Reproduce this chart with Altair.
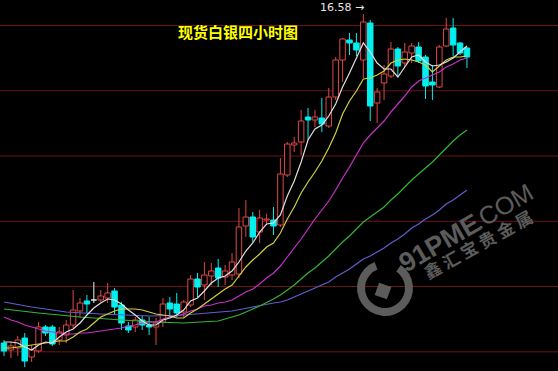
import altair as alt
import pandas as pd

# ---------------- data (4-hour bars) ----------------
bar_no = list(range(68))
open_ = [13.29, 13.22, 13.24, 13.34, 13.15, 13.21, 13.45, 13.45, 13.32, 13.37,
         13.47, 13.61, 13.71, 13.72, 13.72, 13.74, 13.81, 13.67, 13.46, 13.45,
         13.52, 13.47, 13.45, 13.50, 13.69, 13.68, 13.60, 13.67, 13.93, 13.87,
         13.96, 14.04, 13.95, 13.97, 13.98, 14.46, 14.55, 14.40, 14.52, 14.52,
         14.47, 14.97, 15.27, 15.30, 15.55, 15.52, 15.54, 15.46, 15.75, 16.12,
         16.32, 16.29, 16.12, 16.49, 15.69, 15.89, 15.96, 16.23, 16.09, 16.19,
         16.25, 16.15, 15.90, 15.85, 16.26, 16.44, 16.29, 16.24]
close = [13.21, 13.26, 13.32, 13.11, 13.22, 13.45, 13.39, 13.28, 13.40, 13.47,
         13.62, 13.69, 13.68, 13.72, 13.76, 13.79, 13.65, 13.49, 13.42, 13.52,
         13.47, 13.45, 13.49, 13.68, 13.63, 13.59, 13.70, 13.93, 13.85, 13.97,
         14.01, 13.94, 14.01, 14.10, 14.45, 14.55, 14.35, 14.54, 14.53, 14.46,
         14.98, 15.28, 15.29, 15.51, 15.52, 15.55, 15.48, 15.75, 16.12, 16.33,
         16.29, 16.22, 16.50, 15.66, 15.80, 15.98, 16.23, 16.06, 16.20, 16.26,
         16.11, 15.86, 15.87, 16.25, 16.43, 16.27, 16.19, 16.15]
high = [13.32, 13.30, 13.36, 13.39, 13.27, 13.50, 13.47, 13.47, 13.45, 13.52,
        13.82, 13.74, 13.77, 13.90, 13.82, 13.89, 13.84, 13.70, 13.50, 13.55,
        13.56, 13.55, 13.54, 13.74, 13.75, 13.79, 13.72, 13.97, 13.99, 14.10,
        14.09, 14.13, 14.07, 14.19, 14.64, 14.72, 14.60, 14.62, 14.58, 14.65,
        15.14, 15.30, 15.35, 15.62, 15.64, 15.62, 15.74, 15.84, 16.15, 16.34,
        16.39, 16.39, 16.58, 16.52, 15.84, 16.07, 16.30, 16.25, 16.29, 16.29,
        16.30, 16.17, 16.07, 16.27, 16.54, 16.54, 16.30, 16.25]
low = [13.16, 13.14, 13.16, 13.05, 13.10, 13.19, 13.36, 13.26, 13.27, 13.29,
       13.44, 13.54, 13.59, 13.69, 13.70, 13.69, 13.57, 13.42, 13.39, 13.40,
       13.42, 13.37, 13.27, 13.45, 13.55, 13.55, 13.55, 13.65, 13.75, 13.72,
       13.87, 13.85, 13.87, 13.92, 13.94, 14.35, 14.30, 14.29, 14.47, 14.37,
       14.45, 14.95, 15.20, 15.17, 15.32, 15.45, 15.40, 15.44, 15.72, 15.90,
       16.17, 16.16, 15.94, 15.51, 15.49, 15.72, 15.94, 15.95, 16.05, 16.09,
       16.09, 15.73, 15.72, 15.84, 16.25, 16.16, 16.17, 16.04]

# moving averages (white MA5, yellow MA10, magenta MA20, green MA40, blue MA60)
ma5_bar = list(range(68))
ma5 = [13.30, 13.30, 13.29, 13.25, 13.22, 13.27, 13.30, 13.29, 13.35, 13.40,
       13.43, 13.49, 13.57, 13.64, 13.69, 13.73, 13.72, 13.68, 13.62, 13.57,
       13.51, 13.47, 13.47, 13.52, 13.54, 13.57, 13.62, 13.71, 13.74, 13.81,
       13.89, 13.94, 13.96, 14.01, 14.10, 14.21, 14.29, 14.40, 14.48, 14.49,
       14.57, 14.76, 14.91, 15.10, 15.32, 15.43, 15.47, 15.56, 15.68, 15.85,
       15.99, 16.14, 16.29, 16.20, 16.09, 16.03, 16.03, 15.95, 16.05, 16.15,
       16.17, 16.10, 16.06, 16.07, 16.10, 16.14, 16.20, 16.26]
ma10_bar = list(range(68))
ma10 = [13.24, 13.24, 13.25, 13.26, 13.27, 13.28, 13.29, 13.30, 13.31, 13.31,
        13.35, 13.40, 13.43, 13.49, 13.55, 13.58, 13.61, 13.63, 13.63, 13.63,
        13.62, 13.60, 13.58, 13.57, 13.56, 13.54, 13.54, 13.59, 13.63, 13.68,
        13.73, 13.78, 13.83, 13.87, 13.96, 14.05, 14.12, 14.18, 14.25, 14.29,
        14.39, 14.53, 14.65, 14.79, 14.90, 15.00, 15.11, 15.24, 15.39, 15.58,
        15.71, 15.81, 15.93, 15.94, 15.97, 16.01, 16.09, 16.12, 16.13, 16.12,
        16.10, 16.07, 16.00, 16.06, 16.12, 16.15, 16.15, 16.16]
ma20_bar = list(range(68))
ma20 = [13.55, 13.52, 13.50, 13.47, 13.45, 13.43, 13.41, 13.40, 13.39, 13.38,
        13.38, 13.39, 13.39, 13.40, 13.41, 13.42, 13.43, 13.44, 13.46, 13.47,
        13.49, 13.50, 13.50, 13.53, 13.55, 13.56, 13.58, 13.61, 13.63, 13.66,
        13.67, 13.69, 13.70, 13.72, 13.76, 13.80, 13.83, 13.88, 13.94, 13.99,
        14.06, 14.15, 14.24, 14.33, 14.43, 14.53, 14.62, 14.71, 14.82, 14.94,
        15.05, 15.17, 15.29, 15.37, 15.44, 15.51, 15.60, 15.68, 15.76, 15.85,
        15.91, 15.94, 15.97, 16.00, 16.05, 16.08, 16.12, 16.14]
ma40_bar = [0, 5, 11, 17, 22, 26, 31, 34, 37, 39, 40, 41, 42, 43, 44, 45, 46,
            47, 48, 49, 50, 51, 52, 53, 54, 55, 56, 57, 58, 59, 60, 61, 62, 63,
            64, 65, 66, 67]
ma40 = [13.63, 13.59, 13.55, 13.52, 13.50, 13.49, 13.51, 13.57, 13.66, 13.73,
        13.77, 13.82, 13.87, 13.93, 13.99, 14.04, 14.10, 14.16, 14.23, 14.30,
        14.36, 14.43, 14.50, 14.55, 14.60, 14.65, 14.72, 14.78, 14.85, 14.92,
        14.98, 15.04, 15.10, 15.17, 15.24, 15.31, 15.37, 15.42]
ma60_bar = [0, 4, 9, 14, 21, 26, 33, 36, 39, 40, 41, 42, 43, 44, 45, 46, 47,
            48, 49, 50, 51, 52, 53, 54, 55, 56, 57, 58, 59, 60, 61, 62, 63, 64,
            65, 66, 67]
ma60 = [13.70, 13.65, 13.60, 13.58, 13.56, 13.57, 13.61, 13.65, 13.69, 13.70,
        13.72, 13.75, 13.78, 13.81, 13.84, 13.87, 13.90, 13.95, 13.99, 14.03,
        14.08, 14.13, 14.16, 14.20, 14.24, 14.29, 14.33, 14.38, 14.44, 14.48,
        14.53, 14.57, 14.62, 14.68, 14.72, 14.77, 14.82]

grid_levels = [16.465, 15.812, 15.16, 14.507, 13.855, 13.202]

title_text = "现货白银四小时图"
wm_brand = "91PME"
wm_domain = ".COM"
wm_cn = "鑫 汇 宝 贵 金 属"

# ---------------- styling ----------------
RED = "#e04646"
CYAN = "#00f0f0"
WHITE = "#f0f0f0"
GRID = "#6a1414"
WM = "#5c5c5c"

W, H = 558, 371
xs = alt.Scale(domain=[-0.579, 80.174], nice=False, zero=False, padding=0)
ys = alt.Scale(domain=[13.01, 16.72], nice=False, zero=False, padding=0)

df = pd.DataFrame({"bar": bar_no, "open": open_, "high": high, "low": low, "close": close})
df["dir"] = ["up" if c > o else ("down" if c < o else "flat") for o, c in zip(open_, close)]

dirs = ["up", "down", "flat"]

grid = alt.Chart(pd.DataFrame({"level": grid_levels})).mark_rule(
    color=GRID, strokeWidth=1
).encode(y=alt.Y("level:Q", scale=ys, axis=None))

wicks = alt.Chart(df).mark_rule(strokeWidth=1).encode(
    x=alt.X("bar:Q", scale=xs, axis=None),
    y=alt.Y("low:Q", scale=ys, axis=None),
    y2="high:Q",
    color=alt.Color("dir:N", scale=alt.Scale(domain=dirs, range=[RED, CYAN, WHITE]), legend=None),
)

bodies = alt.Chart(df).mark_bar(size=5.5, strokeWidth=1).encode(
    x=alt.X("bar:Q", scale=xs, axis=None),
    y=alt.Y("open:Q", scale=ys, axis=None),
    y2="close:Q",
    fill=alt.Fill("dir:N", scale=alt.Scale(domain=dirs, range=["#000000", CYAN, WHITE]), legend=None),
    stroke=alt.Stroke("dir:N", scale=alt.Scale(domain=dirs, range=[RED, CYAN, WHITE]), legend=None),
)


def ma_layer(bars, vals, color):
    d = pd.DataFrame({"bar": bars, "ma": vals})
    return alt.Chart(d).mark_line(color=color, strokeWidth=1.2).encode(
        x=alt.X("bar:Q", scale=xs, axis=None),
        y=alt.Y("ma:Q", scale=ys, axis=None),
    )


lines = [
    ma_layer(ma60_bar, ma60, "#5f5fd0"),
    ma_layer(ma40_bar, ma40, "#34b434"),
    ma_layer(ma20_bar, ma20, "#c830c8"),
    ma_layer(ma10_bar, ma10, "#d0d040"),
    ma_layer(ma5_bar, ma5, "#e0e0e0"),
]

peak_i = max(range(len(high)), key=lambda i: high[i])
peak_df = pd.DataFrame({"bar": [bar_no[peak_i]], "high": [high[peak_i]],
                        "label": [f"{high[peak_i]:.2f} →"]})
peak = alt.Chart(peak_df).mark_text(
    align="right", baseline="middle", dx=1, dy=-6, fontSize=11,
    font="DejaVu Sans", color="#e6e6e6"
).encode(
    x=alt.X("bar:Q", scale=xs, axis=None),
    y=alt.Y("high:Q", scale=ys, axis=None),
    text="label:N",
)

title = alt.Chart(pd.DataFrame({"t": [title_text]})).mark_text(
    align="center", baseline="middle", fontSize=15, fontWeight="bold",
    font="Noto Sans CJK SC", color="#ffff00"
).encode(x=alt.value(238), y=alt.value(33), text="t:N")

wm1 = alt.Chart(pd.DataFrame({"t": [wm_brand]})).mark_text(
    align="center", baseline="middle", fontSize=27, fontWeight="bold", angle=330,
    font="Liberation Sans", color=WM
).encode(x=alt.value(440), y=alt.value(244), text="t:N")
wm2 = alt.Chart(pd.DataFrame({"t": [wm_domain]})).mark_text(
    align="center", baseline="middle", fontSize=25, fontWeight="normal", angle=330,
    font="Liberation Sans", color=WM
).encode(x=alt.value(503), y=alt.value(207), text="t:N")
wm3 = alt.Chart(pd.DataFrame({"t": [wm_cn]})).mark_text(
    align="center", baseline="middle", fontSize=17, fontWeight="bold", angle=331,
    font="Noto Sans CJK SC", color=WM
).encode(x=alt.value(479), y=alt.value(246), text="t:N")
ring = alt.Chart(pd.DataFrame({"k": [1]})).mark_arc(
    radius=28, radius2=20, theta=0.6, theta2=5.9, color=WM
).encode(x=alt.value(385), y=alt.value(288))
gem = alt.Chart(pd.DataFrame({"k": [1]})).mark_point(
    shape="square", filled=True, size=170, angle=20, color=WM, opacity=1
).encode(x=alt.value(383), y=alt.value(291))

chart = alt.layer(
    grid, ring, gem, wm1, wm2, wm3, wicks, bodies, *lines, peak, title
).properties(
    width=W, height=H, padding=0, autosize="none", background="#000000"
).configure_view(stroke=None)

chart.save("out.html", embed_options={"renderer": "svg", "actions": False})
